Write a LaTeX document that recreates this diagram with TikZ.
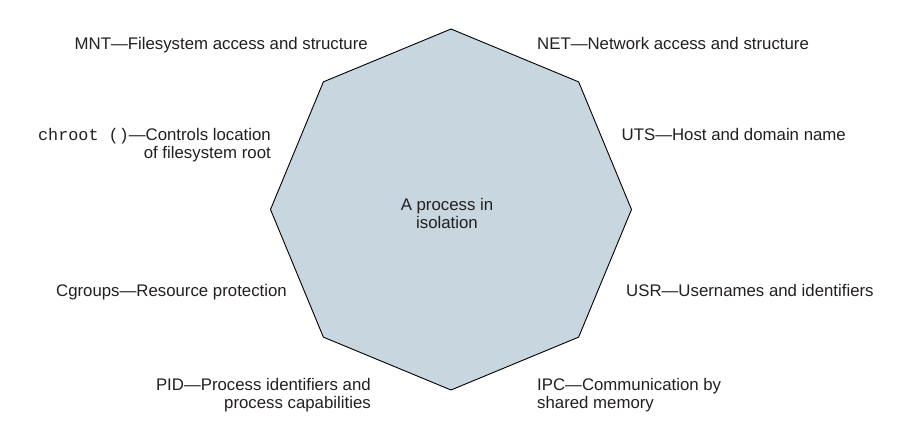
\documentclass[tikz,border=0pt]{standalone}
\usepackage{fontspec}
\setmainfont{Liberation Sans}
\setmonofont{Liberation Mono}
\usetikzlibrary{shapes.geometric}
\definecolor{octfill}{HTML}{C8D6E0}
\definecolor{txt}{HTML}{231F20}
\begin{document}
\begin{tikzpicture}[x=1pt,y=-1pt,
  lbl/.style={inner sep=0pt, text=txt, font=\fontsize{16.8}{18.5}\selectfont},
  lleft/.style={lbl, anchor=base east, align=right},
  lright/.style={lbl, anchor=base west, align=left},
  oct/.style={regular polygon, regular polygon sides=8, shape border rotate=22.5,
     minimum size=361pt, inner sep=0pt, draw=black, line width=0.9pt, fill=octfill}]
\useasboundingbox (0,0) rectangle (916,428);
\node[oct] (oct) at (451,209.5) {};
\node[lbl, align=center, anchor=base] (center) at (447,228.5) {A process in\\isolation};
\node[lleft] (mnt) at (368,49.3) {MNT—Filesystem access and structure};
\node[lleft] (chroot) at (271,158.5) {\texttt{chroot ()}—Controls location\\of filesystem root};
\node[lleft] (cgroups) at (287,296) {Cgroups—Resource protection};
\node[lleft] (pid) at (371,408.5) {PID—Process identifiers and\\process capabilities};
\node[lright] (net) at (537,49.3) {NET—Network access and structure};
\node[lright] (uts) at (621.5,140) {UTS—Host and domain name};
\node[lright] (usr) at (626,296) {USR—Usernames and identifiers};
\node[lright] (ipc) at (537,408.5) {IPC—Communication by\\shared memory};
\end{tikzpicture}
\end{document}
